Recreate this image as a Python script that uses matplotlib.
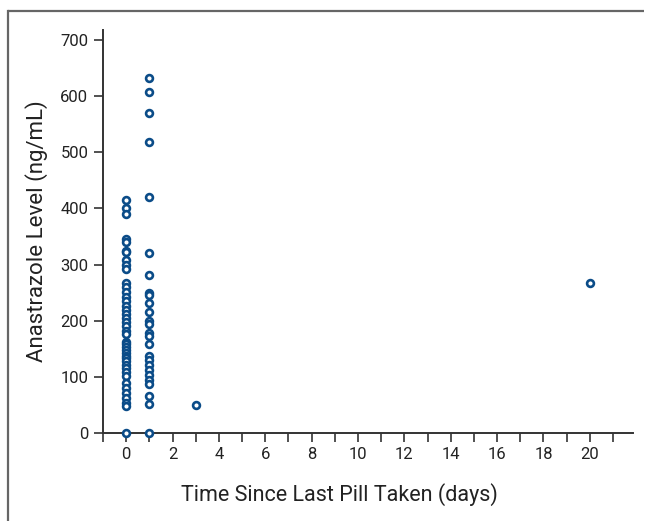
import numpy as np
import matplotlib
matplotlib.use("Agg")
import matplotlib.pyplot as plt
from matplotlib.lines import Line2D
from matplotlib.ticker import MultipleLocator

plt.rcParams["font.family"] = ["Liberation Sans Narrow", "Roboto", "DejaVu Sans"]

# Valores (ng/mL) por días desde la última toma
dias_0 = [416, 400, 391, 345, 340, 324, 322, 308, 300, 292, 267, 260, 252, 243,
          235, 226, 220, 212, 205, 198, 190, 182, 177, 163, 158, 153, 148, 143,
          138, 133, 128, 121, 115, 109, 101, 89, 80, 71, 62, 53, 48, 0]
dias_1 = [633, 608, 571, 519, 421, 320, 281, 250, 246, 231, 216, 200, 195, 178,
          172, 158, 137, 130, 121, 112, 103, 94, 88, 66, 52, 0]
dias_3 = [50]
dias_20 = [267]

x = [0] * len(dias_0) + [1] * len(dias_1) + [3] * len(dias_3) + [20] * len(dias_20)
y = dias_0 + dias_1 + dias_3 + dias_20

fig = plt.figure(figsize=(6.45, 5.21), dpi=100)
ax = fig.add_axes([0.1597, 0.1689, 0.8213, 0.7735])

ax.scatter(x, y, s=24, facecolors="white", edgecolors="#0b4c88",
           linewidths=1.9, clip_on=False, zorder=3)

ax.set_xlim(-1, 21.85)
ax.set_ylim(0, 718)
ax.xaxis.set_major_locator(MultipleLocator(2))
ax.xaxis.set_minor_locator(MultipleLocator(1))
ax.set_xticks(range(0, 21, 2))
ax.set_yticks(range(0, 701, 100))

for s in ["top", "right"]:
    ax.spines[s].set_visible(False)
for s in ["left", "bottom"]:
    ax.spines[s].set_color("#333333")
    ax.spines[s].set_linewidth(1.4)

ax.tick_params(axis="both", which="both", direction="out", length=6.5,
               width=1.2, color="#333333", labelsize=12, labelcolor="#222222")
ax.tick_params(axis="y", pad=4)

ax.set_xlabel("Time Since Last Pill Taken (days)", fontsize=15.5,
              color="#222222")
ax.xaxis.set_label_coords(0.4455, -0.125)
ax.set_ylabel("Anastrazole Level (ng/mL)", fontsize=16, labelpad=9,
              color="#222222")

# marco gris (arriba e izquierda)
fig.add_artist(Line2D([8 / 645, 8 / 645], [0, 1 - 11 / 521],
                      transform=fig.transFigure, color="#666666", lw=1.6))
fig.add_artist(Line2D([8 / 645, 644 / 645], [1 - 11 / 521, 1 - 11 / 521],
                      transform=fig.transFigure, color="#666666", lw=1.6,
                      solid_capstyle="butt"))

fig.savefig("out.png", dpi=100)
